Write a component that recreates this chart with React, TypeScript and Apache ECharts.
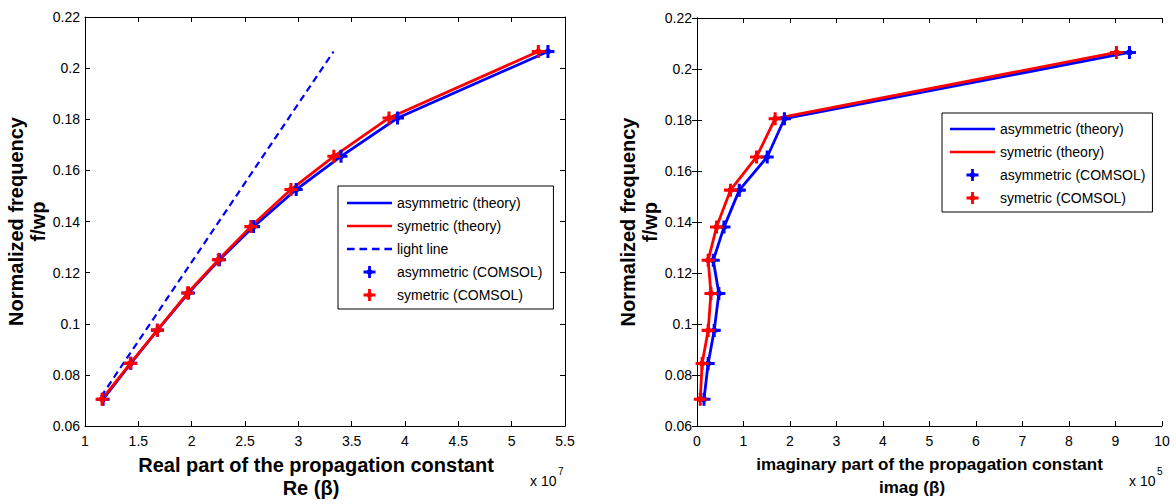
import React, { useEffect, useRef } from "react";
import * as echarts from "echarts";

// Normalized frequency f/wp (shared by both panels)
const freq = [0.0705, 0.0845, 0.0975, 0.112, 0.125, 0.138, 0.1525, 0.1655, 0.1805, 0.2065];
// Real part of beta (x 1e7)
const reAsym = [1.17, 1.43, 1.68, 1.97, 2.26, 2.58, 2.98, 3.4, 3.93, 5.34];
const reSym = [1.16, 1.425, 1.678, 1.962, 2.25, 2.555, 2.93, 3.333, 3.85, 5.25];
// Light line
const lightRe = [1.15, 3.33];
const lightFreq = [0.0715, 0.2065];
// Imaginary part of beta (x 1e5)
const imAsym = [0.15, 0.24, 0.37, 0.47, 0.35, 0.58, 0.91, 1.51, 1.88, 9.3];
const imSym = [0.07, 0.11, 0.24, 0.3, 0.24, 0.42, 0.72, 1.28, 1.68, 9.02];

const reTicks = { min: 1, max: 5.5, interval: 0.5 };
const imTicks = { min: 0, max: 10, interval: 1 };
const yTicks = { min: 0.06, max: 0.22, interval: 0.02 };

const NAMES = {
  asymTh: "asymmetric (theory)",
  symTh: "symetric (theory)",
  light: "light line",
  asymCo: "asymmetric (COMSOL)",
  symCo: "symetric (COMSOL)",
};

const BLUE = "#0000ff";
const RED = "#ff0000";
const FONT = "'Liberation Sans', Arial, sans-serif";
const MARKER =
  "path://M4.6,0 L7.4,0 L7.4,12 L4.6,12 Z M0,4.6 L12,4.6 L12,7.4 L0,7.4 Z M6,2 L10,6 L6,10 L2,6 Z";
const SOLID_ICON = "path://M0,0 L45,0 L45,2.6 L0,2.6 Z";
const DASH_ICON =
  "path://M0,0 L7,0 L7,2.2 L0,2.2 Z M11.5,0 L18.5,0 L18.5,2.2 L11.5,2.2 Z M23,0 L30,0 L30,2.2 L23,2.2 Z M34.5,0 L41.5,0 L41.5,2.2 L34.5,2.2 Z";

const pairs = (xs: number[], ys: number[]) => xs.map((x, i) => [x, ys[i]]);

export default function App() {
  const ref = useRef<HTMLDivElement>(null);
  useEffect(() => {
    if (!ref.current) return;
    const chart = echarts.init(ref.current, undefined, { renderer: "svg" });

    const axisLine = { show: true, lineStyle: { color: "#000", width: 1 } };
    const tick = { show: true, inside: true, length: 5, lineStyle: { color: "#000", width: 1 } };
    const label = { color: "#000", fontSize: 14, fontFamily: FONT };
    const nameStyle = { color: "#000", fontSize: 20, fontWeight: "bold" as const, fontFamily: FONT, lineHeight: 23 };

    const xMain = (grid: number, t: any, l1: string, l2: string, size: number, pa: number, pb: number) => ({
      type: "value",
      gridIndex: grid,
      position: "bottom",
      ...t,
      name: `{a|${l1}}\n{b|${l2}}`,
      nameLocation: "middle",
      nameGap: 27,
      nameTextStyle: {
        ...nameStyle,
        fontSize: size,
        rich: {
          a: { ...nameStyle, fontSize: size, padding: [0, pa, 0, 0] },
          b: { ...nameStyle, fontSize: size, padding: [0, pb, 0, 0] },
        },
      },
      axisLine,
      axisTick: tick,
      axisLabel: { ...label, margin: 8 },
      splitLine: { show: false },
    });
    const xTop = (grid: number, t: any) => ({
      type: "value",
      gridIndex: grid,
      position: "top",
      ...t,
      axisLine,
      axisTick: tick,
      axisLabel: { show: false },
      splitLine: { show: false },
    });
    const yMain = (grid: number) => ({
      type: "value",
      gridIndex: grid,
      position: "left",
      ...yTicks,
      name: "Normalized frequency\nf/wp",
      nameLocation: "middle",
      nameGap: 32,
      nameTextStyle: { ...nameStyle, lineHeight: 22 },
      axisLine,
      axisTick: tick,
      axisLabel: { ...label, margin: 5, formatter: (v: number) => String(+v.toFixed(2)) },
      splitLine: { show: false },
    });
    const yRight = (grid: number) => ({
      type: "value",
      gridIndex: grid,
      position: "right",
      ...yTicks,
      axisLine,
      axisTick: tick,
      axisLabel: { show: false },
      splitLine: { show: false },
    });

    const line = (name: string, xi: number, yi: number, data: number[][], color: string, dashed = false) => ({
      type: "line",
      name,
      xAxisIndex: xi,
      yAxisIndex: yi,
      data,
      symbol: "none",
      showSymbol: false,
      lineStyle: { color, width: dashed ? 2.2 : 2.8, type: dashed ? [7, 4.5] : "solid" },
      itemStyle: { color },
      z: dashed ? 3 : 2,
      silent: true,
    });
    const pts = (name: string, xi: number, yi: number, data: number[][], color: string) => ({
      type: "scatter",
      name,
      xAxisIndex: xi,
      yAxisIndex: yi,
      data,
      symbol: MARKER,
      symbolSize: 13,
      symbolKeepAspect: true,
      itemStyle: { color, opacity: 1 },
      z: 4,
      silent: true,
    });

    const legendBase = {
      orient: "vertical",
      itemWidth: 45,
      itemHeight: 12,
      itemGap: 9,
      borderColor: "#000",
      borderWidth: 1,
      backgroundColor: "#fff",
      textStyle: { color: "#000", fontSize: 14, fontFamily: FONT },
      selectedMode: false,
      symbolKeepAspect: true,
    };

    chart.setOption({
      animation: false,
      backgroundColor: "#fff",
      grid: [
        { left: 85, right: 611, top: 17, bottom: 72 },
        { left: 697, right: 14, top: 18, bottom: 72 },
      ],
      xAxis: [
        xMain(0, reTicks, "Real part of the propagation constant", "Re (β)", 20, 18, 28),
        xTop(0, reTicks),
        xMain(1, imTicks, "imaginary part of the propagation constant", "imag (β)", 17, 0, 35),
        xTop(1, imTicks),
      ],
      yAxis: [yMain(0), yRight(0), yMain(1), yRight(1)],
      legend: [
        {
          ...legendBase,
          left: 338,
          top: 186,
          padding: [10, 11, 7, 9],
          data: [
            { name: NAMES.asymTh, icon: SOLID_ICON, itemStyle: { color: BLUE } },
            { name: NAMES.symTh, icon: SOLID_ICON, itemStyle: { color: RED } },
            { name: NAMES.light, icon: DASH_ICON, itemStyle: { color: BLUE } },
            { name: NAMES.asymCo, icon: MARKER },
            { name: NAMES.symCo, icon: MARKER },
          ],
        },
        {
          ...legendBase,
          left: 942,
          top: 113,
          padding: [9, 7, 7, 8],
          data: [
            { name: NAMES.asymTh, icon: SOLID_ICON, itemStyle: { color: BLUE } },
            { name: NAMES.symTh, icon: SOLID_ICON, itemStyle: { color: RED } },
            { name: NAMES.asymCo, icon: MARKER },
            { name: NAMES.symCo, icon: MARKER },
          ],
        },
      ],
      graphic: [
        { type: "text", left: 530, top: 474, style: { text: "x 10", fontSize: 14, fontFamily: FONT, fill: "#000" } },
        { type: "text", left: 558, top: 466, style: { text: "7", fontSize: 10, fontFamily: FONT, fill: "#000" } },
        { type: "text", left: 1129, top: 474, style: { text: "x 10", fontSize: 14, fontFamily: FONT, fill: "#000" } },
        { type: "text", left: 1157, top: 466, style: { text: "5", fontSize: 10, fontFamily: FONT, fill: "#000" } },
      ],
      series: [
        line(NAMES.asymTh, 0, 0, pairs(reAsym, freq), BLUE),
        line(NAMES.symTh, 0, 0, pairs(reSym, freq), RED),
        line(NAMES.light, 0, 0, pairs(lightRe, lightFreq), BLUE, true),
        pts(NAMES.asymCo, 0, 0, pairs(reAsym, freq), BLUE),
        pts(NAMES.symCo, 0, 0, pairs(reSym, freq), RED),
        line(NAMES.asymTh, 2, 2, pairs(imAsym, freq), BLUE),
        line(NAMES.symTh, 2, 2, pairs(imSym, freq), RED),
        pts(NAMES.asymCo, 2, 2, pairs(imAsym, freq), BLUE),
        pts(NAMES.symCo, 2, 2, pairs(imSym, freq), RED),
      ],
    });
    return () => chart.dispose();
  }, []);

  return (
    <div
      ref={ref}
      style={{ position: "fixed", left: 0, top: 0, width: 1176, height: 504, background: "#fff" }}
    />
  );
}
